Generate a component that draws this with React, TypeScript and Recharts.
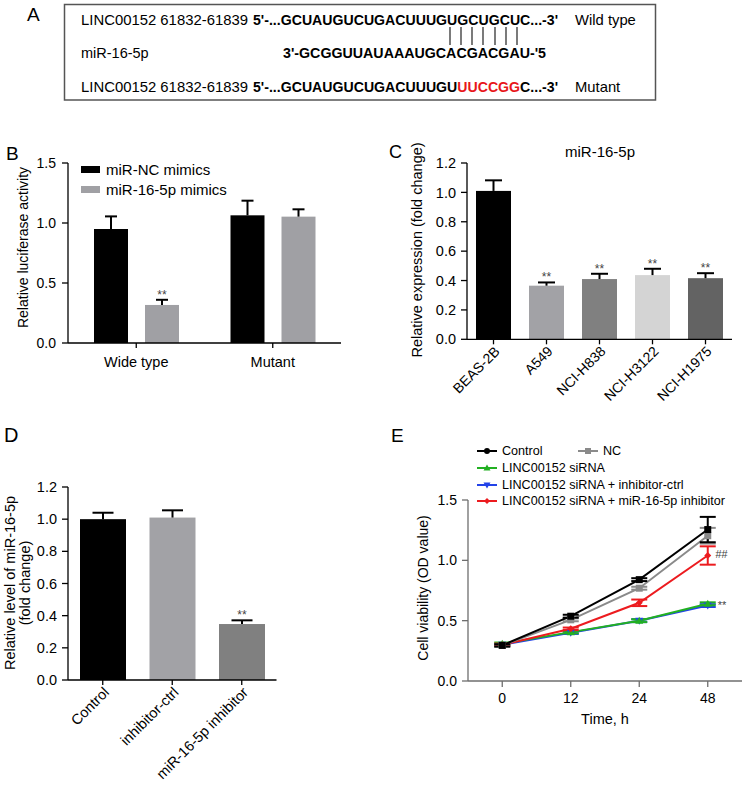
import React from 'react';
import { BarChart, Bar, XAxis, YAxis, Legend, LineChart, Line, ErrorBar, LabelList } from 'recharts';

const FONT = '"Liberation Sans", Arial, Helvetica, sans-serif';

// ---------- Panel B : luciferase ----------
const bCategories = ['Wide type', 'Mutant'];
const bSeriesNames = ['miR-NC mimics', 'miR-16-5p mimics'];
const bNcMimics = [0.95, 1.064];
const bNcErr = [0.105, 0.122];
const bMirMimics = [0.317, 1.053];
const bMirErr = [0.043, 0.061];
const bMirSig = ['**', ''];
const bTicks = [0, 0.5, 1.0, 1.5];

// ---------- Panel C : miR-16-5p expression ----------
const cCells = ['BEAS-2B', 'A549', 'NCI-H838', 'NCI-H3122', 'NCI-H1975'];
const cValues = [1.01, 0.365, 0.41, 0.437, 0.416];
const cErr = [0.072, 0.022, 0.036, 0.043, 0.034];
const cSig = ['', '**', '**', '**', '**'];
const cTicks = [0, 0.2, 0.4, 0.6, 0.8, 1.0, 1.2];

// ---------- Panel D : inhibitor ----------
const dGroups = ['Control', 'inhibitor-ctrl', 'miR-16-5p inhibitor'];
const dValues = [1.0, 1.01, 0.348];
const dErr = [0.04, 0.045, 0.023];
const dSig = ['', '', '**'];
const dTicks = [0, 0.2, 0.4, 0.6, 0.8, 1.0, 1.2];

// ---------- Panel E : cell viability ----------
const eTimes = ['0', '12', '24', '48'];
const eControl = [0.295, 0.537, 0.84, 1.255];
const eControlErr = [0.01, 0.012, 0.012, 0.105];
const eNC = [0.295, 0.507, 0.769, 1.204];
const eNCErr = [0.01, 0.012, 0.012, 0.065];
const eSiRNA = [0.309, 0.405, 0.5, 0.64];
const eSiRNAErr = [0.01, 0.01, 0.012, 0.012];
const eInhCtrl = [0.3, 0.4, 0.5, 0.625];
const eInhCtrlErr = [0.01, 0.01, 0.012, 0.012];
const eMirInh = [0.3, 0.433, 0.648, 1.04];
const eMirInhErr = [0.01, 0.01, 0.027, 0.076];
const eSiRNASig = ['', '', '', '**'];
const eMirInhSig = ['', '', '', '##'];
const eTicks = [0, 0.5, 1.0, 1.5];

// ---------- styles ----------
const bColors = { nc: '#000000', mir: '#a0a0a4' };
const cColors = ['#000000', '#a2a2a6', '#808080', '#d4d4d4', '#636363'];
const dColors = ['#000000', '#a2a2a6', '#808080'];

const bData = bCategories.map((c, i) => ({
  cat: c, nc: bNcMimics[i], ncErr: bNcErr[i], mir: bMirMimics[i], mirErr: bMirErr[i], mirSig: bMirSig[i],
}));
const cData = cCells.map((c, i) => ({ cat: c, v: cValues[i], err: cErr[i], sig: cSig[i] }));
const dData = dGroups.map((c, i) => ({ cat: c, v: dValues[i], err: dErr[i], sig: dSig[i] }));
const eData = eTimes.map((t, i) => ({
  time: t,
  control: eControl[i], controlErr: eControlErr[i],
  nc: eNC[i], ncErr: eNCErr[i],
  si: eSiRNA[i], siErr: eSiRNAErr[i], siSig: eSiRNASig[i],
  ictrl: eInhCtrl[i], ictrlErr: eInhCtrlErr[i],
  mir: eMirInh[i], mirErr: eMirInhErr[i], mirSig: eMirInhSig[i],
}));

const eSeries = [
  { key: 'control', name: 'Control', color: '#000000', shape: 'square', legendShape: 'circle' },
  { key: 'nc', name: 'NC', color: '#8a8a8a', shape: 'square', legendShape: 'square' },
  { key: 'si', name: 'LINC00152 siRNA', color: '#22b022', shape: 'triUp', legendShape: 'triUp' },
  { key: 'ictrl', name: 'LINC00152 siRNA + inhibitor-ctrl', color: '#2343e8', shape: 'triDown', legendShape: 'triDown' },
  { key: 'mir', name: 'LINC00152 siRNA + miR-16-5p inhibitor', color: '#ec1b1f', shape: 'diamond', legendShape: 'diamond' },
];
const eDrawOrder = ['ictrl', 'si', 'mir', 'nc', 'control'];

const fmt1 = (v: number) => v.toFixed(1);

const makeBarShape = (valueKey: string, errKey: string, sigKey: string, capWidth: number, colors: string[] | string) => (props: any) => {
  const { x, y, width, height, payload, index } = props;
  const v = payload[valueKey];
  const e = payload[errKey] || 0;
  const ppu = v ? height / v : 0;
  const cx = x + width / 2;
  const top = y - e * ppu;
  const sig = payload[sigKey];
  const fill = Array.isArray(colors) ? colors[index % colors.length] : colors;
  return (
    <g>
      <rect x={x} y={y} width={width} height={height} fill={fill} />
      <line x1={cx} y1={y} x2={cx} y2={top} stroke="#000" strokeWidth={2} />
      <line x1={cx - capWidth / 2} y1={top} x2={cx + capWidth / 2} y2={top} stroke="#000" strokeWidth={2} />
      {sig ? (
        <text x={cx} y={top - 1} textAnchor="middle" fontSize={12} fill="#444" fontFamily={FONT}>{sig}</text>
      ) : null}
    </g>
  );
};

const Marker = ({ shape, cx, cy, color, size = 7 }: any) => {
  const h = size / 2;
  switch (shape) {
    case 'circle':
      return <circle cx={cx} cy={cy} r={h} fill={color} />;
    case 'square':
      return <rect x={cx - h} y={cy - h} width={size} height={size} fill={color} />;
    case 'triUp':
      return <path d={`M${cx},${cy - h - 0.5}L${cx + h + 0.5},${cy + h - 0.5}L${cx - h - 0.5},${cy + h - 0.5}Z`} fill={color} />;
    case 'triDown':
      return <path d={`M${cx},${cy + h + 0.5}L${cx + h + 0.5},${cy - h + 0.5}L${cx - h - 0.5},${cy - h + 0.5}Z`} fill={color} />;
    default:
      return <path d={`M${cx},${cy - h}L${cx + h},${cy}L${cx},${cy + h}L${cx - h},${cy}Z`} fill={color} />;
  }
};

const BLegend = ({ payload }: any) => {
  const items = [...(payload || [])].sort((a: any, b: any) => bSeriesNames.indexOf(a.value) - bSeriesNames.indexOf(b.value));
  return (
    <div style={{ fontFamily: FONT, fontSize: 15, color: '#000' }}>
      {items.map((p: any) => (
        <div key={p.value} style={{ display: 'flex', alignItems: 'center', height: 20 }}>
          <span style={{ display: 'inline-block', width: 19, height: 7, background: p.color, marginRight: 6 }} />
          <span>{p.value}</span>
        </div>
      ))}
    </div>
  );
};

const ELegend = ({ payload }: any) => {
  const names = eSeries.map((s) => s.name);
  const items = [...(payload || [])].sort((a: any, b: any) => names.indexOf(a.value) - names.indexOf(b.value));
  const rows = [[items[0], items[1]], [items[2]], [items[3]], [items[4]]];
  const item = (p: any, w?: number) => {
    if (!p) return null;
    const s = eSeries.find((q) => q.name === p.value);
    return (
      <div key={p.value} style={{ display: 'flex', alignItems: 'center', width: w }}>
        <svg width={20} height={10} style={{ marginRight: 5 }}>
          <line x1={0} y1={5} x2={20} y2={5} stroke={s?.color} strokeWidth={2} />
          <Marker shape={s?.legendShape} cx={10} cy={5} color={s?.color} size={6} />
        </svg>
        <span>{p.value}</span>
      </div>
    );
  };
  return (
    <div style={{ fontFamily: FONT, fontSize: 12.6, color: '#000', whiteSpace: 'nowrap' }}>
      {rows.map((r, i) => (
        <div key={i} style={{ display: 'flex', alignItems: 'center', height: 16.7 }}>
          {item(r[0], r.length > 1 ? 101 : undefined)}
          {r.length > 1 ? item(r[1]) : null}
        </div>
      ))}
    </div>
  );
};

const sigLabel = (dx: number, dy: number, italic: boolean) => (p: any) => {
  const { x, y, value } = p;
  if (!value) return null;
  return (
    <text x={x + dx} y={y + dy} fontSize={11} fill="#444" fontStyle={italic ? 'italic' : 'normal'} fontFamily={FONT}>{value}</text>
  );
};

const axisStroke = { stroke: '#000', strokeWidth: 1.3 };
const eAxisStroke = { stroke: '#6e6e6e', strokeWidth: 1.3 };

export default function App() {
  return (
    <div style={{ position: 'relative', width: 744, height: 788, background: '#fff', fontFamily: FONT, overflow: 'hidden' }}>
      <style>{`body{margin:0}`}</style>

      {/* Panel B */}
      <div style={{ position: 'absolute', left: 0, top: 150 }}>
        <BarChart width={350} height={245} data={bData} margin={{ top: 13, right: 9, bottom: 22, left: 8 }} barSize={34} barGap={17}>
          <XAxis dataKey="cat" height={30} axisLine={axisStroke} tickLine={axisStroke} tickSize={5}
            tick={{ fill: '#000', fontSize: 14.5, fontFamily: FONT }} tickMargin={9} />
          <YAxis width={60} domain={[0, 1.5]} ticks={bTicks} tickFormatter={fmt1} axisLine={axisStroke} tickLine={axisStroke}
            tickSize={6} tickMargin={6} tick={{ fill: '#000', fontSize: 14, fontFamily: FONT }} />
          <Legend layout="vertical" align="center" verticalAlign="middle" content={<BLegend />}
            wrapperStyle={{ left: 81, top: 9, width: 'auto', height: 'auto' }} />
          <Bar dataKey="nc" name={bSeriesNames[0]} fill={bColors.nc} isAnimationActive={false}
            shape={makeBarShape('nc', 'ncErr', 'ncSig', 12, bColors.nc)} />
          <Bar dataKey="mir" name={bSeriesNames[1]} fill={bColors.mir} isAnimationActive={false}
            shape={makeBarShape('mir', 'mirErr', 'mirSig', 12, bColors.mir)} />
        </BarChart>
      </div>

      {/* Panel C */}
      <div style={{ position: 'absolute', left: 370, top: 140 }}>
        <BarChart width={374} height={270} data={cData} margin={{ top: 23, right: 12, bottom: 10.7, left: 37 }} barSize={35}>
          <XAxis dataKey="cat" height={60} interval={0} angle={-45} textAnchor="end" axisLine={axisStroke} tickLine={axisStroke}
            tickSize={5} tickMargin={1} tick={{ fill: '#000', fontSize: 14, fontFamily: FONT }} />
          <YAxis width={60} domain={[0, 1.2]} ticks={cTicks} tickFormatter={fmt1} axisLine={axisStroke} tickLine={axisStroke}
            tickSize={6} tickMargin={5} tick={{ fill: '#000', fontSize: 14.5, fontFamily: FONT }} />
          <Bar dataKey="v" name="miR-16-5p" isAnimationActive={false} shape={makeBarShape('v', 'err', 'sig', 17, cColors)} />
        </BarChart>
      </div>

      {/* Panel D */}
      <div style={{ position: 'absolute', left: 0, top: 460 }}>
        <BarChart width={370} height={328} data={dData} margin={{ top: 27, right: 93.5, bottom: 8, left: 8 }} barSize={46}>
          <XAxis dataKey="cat" height={100} interval={0} angle={-45} textAnchor="end" axisLine={axisStroke} tickLine={axisStroke}
            tickSize={5} tickMargin={1} tick={{ fill: '#000', fontSize: 14.5, fontFamily: FONT }} />
          <YAxis width={60} domain={[0, 1.2]} ticks={dTicks} tickFormatter={fmt1} axisLine={axisStroke} tickLine={axisStroke}
            tickSize={6} tickMargin={5} tick={{ fill: '#000', fontSize: 14.5, fontFamily: FONT }} />
          <Bar dataKey="v" name="miR-16-5p" isAnimationActive={false} shape={makeBarShape('v', 'err', 'sig', 21, dColors)} />
        </BarChart>
      </div>

      {/* Panel E */}
      <div style={{ position: 'absolute', left: 370, top: 420 }}>
        <LineChart width={374} height={368} data={eData} margin={{ top: 80, right: 2, bottom: 77, left: 38 }}>
          <XAxis dataKey="time" height={30} padding={{ left: 34.25, right: 34.25 }} axisLine={eAxisStroke} tickLine={eAxisStroke}
            tickSize={6} tickMargin={6} tick={{ fill: '#000', fontSize: 14, fontFamily: FONT }} />
          <YAxis width={60} domain={[0, 1.5]} ticks={eTicks} tickFormatter={fmt1} axisLine={eAxisStroke} tickLine={eAxisStroke}
            tickSize={6} tickMargin={5} tick={{ fill: '#000', fontSize: 14, fontFamily: FONT }} />
          <Legend layout="vertical" align="center" verticalAlign="middle" content={<ELegend />}
            wrapperStyle={{ left: 107, top: 23, width: 'auto', height: 'auto' }} />
          {eDrawOrder.map((k) => {
            const s = eSeries.find((q) => q.key === k)!;
            return (
              <Line key={k} dataKey={k} name={s.name} stroke={s.color} strokeWidth={2} isAnimationActive={false}
                dot={(p: any) => <Marker key={`${k}-${p.index}`} shape={s.shape} cx={p.cx} cy={p.cy} color={s.color} size={7} />}
                activeDot={false}>
                <ErrorBar dataKey={`${k}Err`} direction="y" width={8} strokeWidth={2} stroke={s.color} isAnimationActive={false} />
                {k === 'mir' ? <LabelList dataKey="mirSig" content={sigLabel(7.5, 2, true)} /> : null}
                {k === 'si' ? <LabelList dataKey="siSig" content={sigLabel(10, 5, false)} /> : null}
              </Line>
            );
          })}
        </LineChart>
      </div>

      {/* Overlay: panel A, panel letters, axis titles */}
      <svg width={744} height={788} style={{ position: 'absolute', left: 0, top: 0, pointerEvents: 'none' }} fontFamily={FONT}>
        <text x={27} y={21} fontSize={19} fill="#000">A</text>
        <rect x={64.5} y={4.5} width={591} height={95.5} fill="none" stroke="#555" strokeWidth={1.5} />
        <text x={81} y={25} fontSize={14.5} textLength={167} lengthAdjust="spacingAndGlyphs">LINC00152 61832-61839</text>
        <text x={253} y={25} fontSize={14} fontWeight="bold" textLength={305} lengthAdjust="spacingAndGlyphs">5'-...GCUAUGUCUGACUUUGUGCUGCUC...-3'</text>
        <text x={575} y={25} fontSize={14.8}>Wild type</text>
        {[450, 461, 472, 483, 495, 506, 517].map((x) => (
          <line key={x} x1={x} y1={27} x2={x} y2={45} stroke="#222" strokeWidth={1.2} />
        ))}
        <text x={81} y={58} fontSize={14.5}>miR-16-5p</text>
        <text x={283} y={58} fontSize={14} fontWeight="bold" textLength={263} lengthAdjust="spacingAndGlyphs">3'-GCGGUUAUAAAUGCACGACGAU-'5</text>
        <text x={81} y={92} fontSize={14.5} textLength={167} lengthAdjust="spacingAndGlyphs">LINC00152 61832-61839</text>
        <text x={253} y={92} fontSize={14} fontWeight="bold" textLength={305} lengthAdjust="spacingAndGlyphs">
          5'-...GCUAUGUCUGACUUUGU<tspan fill="#e8161b">UUCCGG</tspan>C...-3'
        </text>
        <text x={575} y={92} fontSize={14.8}>Mutant</text>

        <text x={6} y={160} fontSize={19}>B</text>
        <text x={389} y={158} fontSize={18}>C</text>
        <text x={4} y={442} fontSize={20}>D</text>
        <text x={391} y={442} fontSize={19}>E</text>

        <text transform="translate(27.5,247.5) rotate(-90)" textAnchor="middle" fontSize={14}>Relative luciferase activity</text>
        <text x={600} y={157} textAnchor="middle" fontSize={15}>miR-16-5p</text>
        <text transform="translate(422,250) rotate(-90)" textAnchor="middle" fontSize={14.5}>Relative expression (fold change)</text>
        <text transform="translate(15,583) rotate(-90)" textAnchor="middle" fontSize={14.5}>Relative level of miR-16-5p</text>
        <text transform="translate(29.5,583) rotate(-90)" textAnchor="middle" fontSize={14.5}>(fold change)</text>
        <text transform="translate(428,588) rotate(-90)" textAnchor="middle" fontSize={14}>Cell viability (OD value)</text>
        <text x={605} y={724} textAnchor="middle" fontSize={14.5}>Time, h</text>
      </svg>
    </div>
  );
}
